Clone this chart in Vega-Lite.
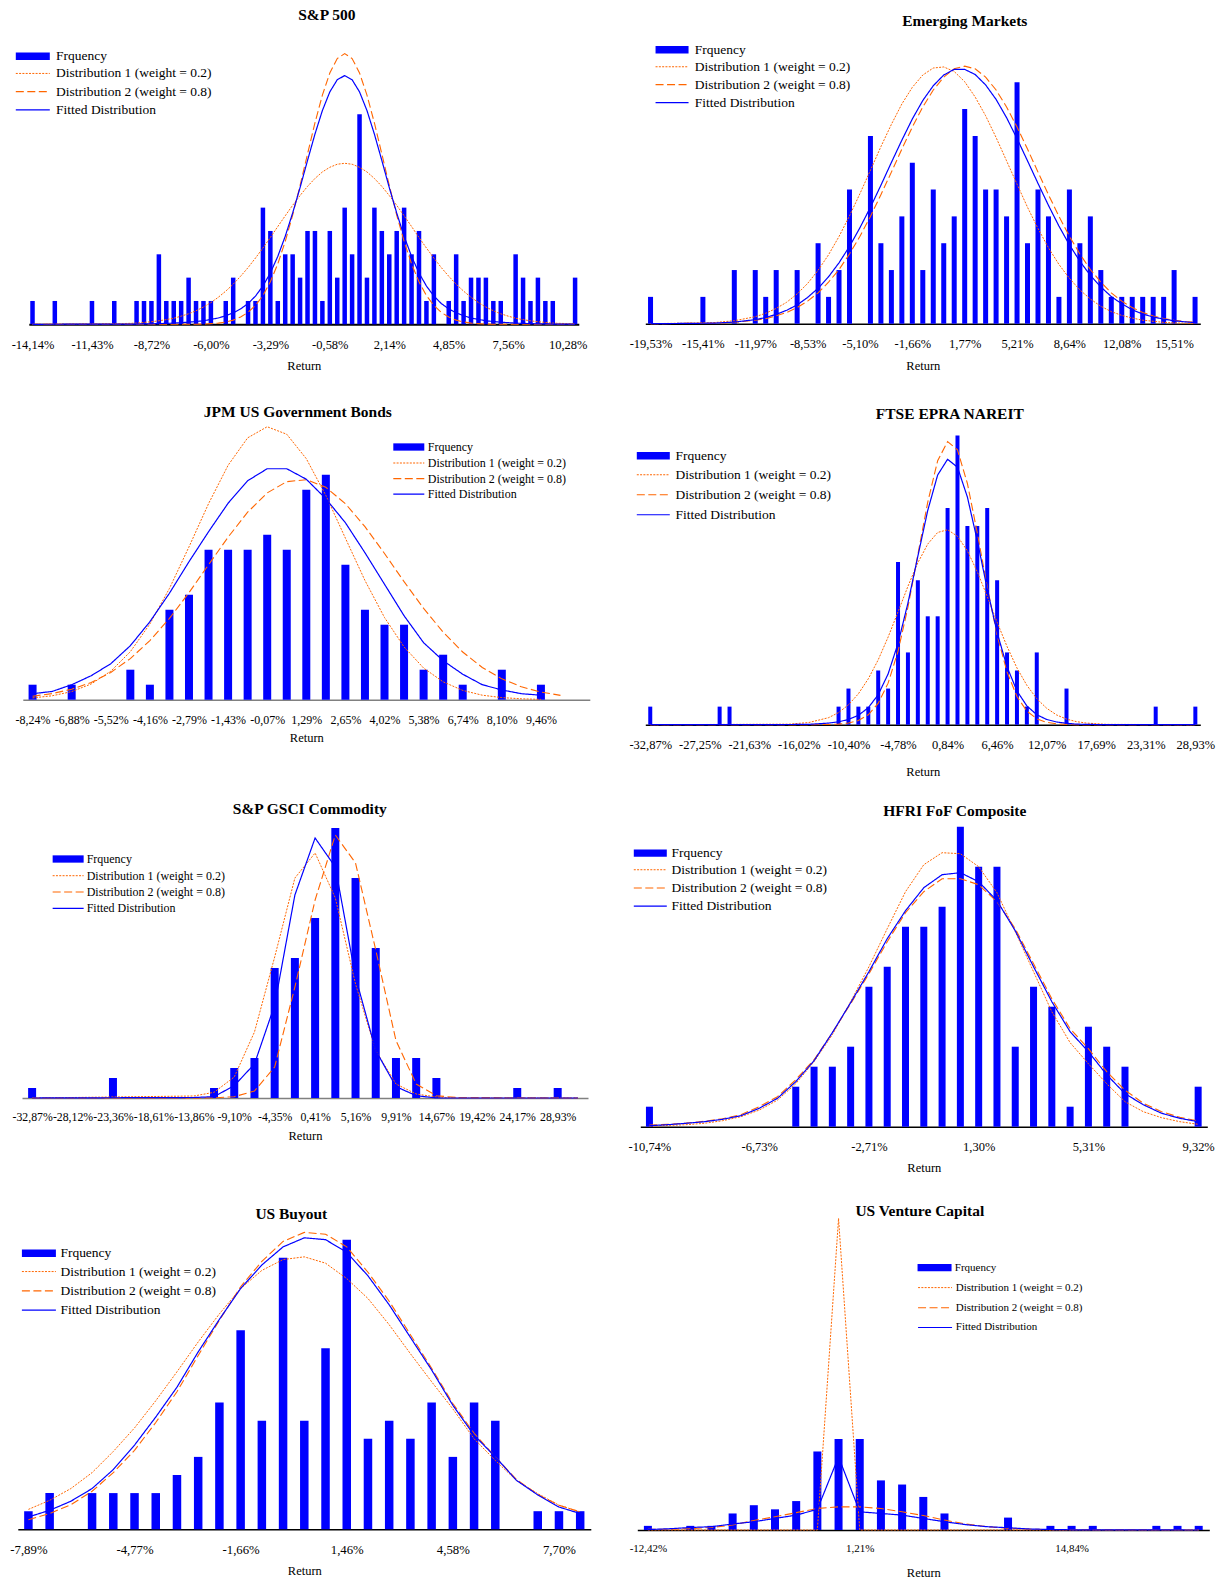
{
  "$schema": "https://vega.github.io/schema/vega-lite/v6.json",
  "padding": {"left": 9.3, "top": 7, "right": 2, "bottom": 2},
  "datasets": {
    "sp": [
      {"i":0,"f":1,"a":0,"b":0,"c":0},{"i":3,"f":1},{"i":8,"f":1},{"i":11,"f":1},
      {"i":12,"a":0.03,"c":0.01},{"i":14,"f":1,"a":0.05,"c":0.01},{"i":15,"f":1,"a":0.08,"c":0.02},
      {"i":16,"f":1,"a":0.11,"c":0.02},{"i":17,"f":3,"a":0.15,"c":0.03},{"i":18,"f":1,"a":0.2,"c":0.04},
      {"i":19,"f":1,"a":0.26,"c":0.05},{"i":20,"f":1,"a":0.35,"c":0.07},{"i":21,"f":2,"a":0.45,"c":0.09},
      {"i":22,"f":1,"a":0.58,"b":0,"c":0.12},{"i":23,"f":1,"a":0.74,"b":0.01,"c":0.15},
      {"i":24,"f":1,"a":0.93,"b":0.03,"c":0.21},{"i":25,"a":1.16,"b":0.05,"c":0.27},
      {"i":26,"f":1,"a":1.42,"b":0.1,"c":0.37},{"i":27,"f":2,"a":1.72,"b":0.18,"c":0.49},
      {"i":28,"a":2.06,"b":0.31,"c":0.66},{"i":29,"f":1,"a":2.43,"b":0.51,"c":0.89},
      {"i":30,"f":1,"a":2.84,"b":0.81,"c":1.21},{"i":31,"f":5,"a":3.27,"b":1.23,"c":1.64},
      {"i":32,"f":4,"a":3.72,"b":1.82,"c":2.2},{"i":33,"f":1,"a":4.19,"b":2.59,"c":2.91},
      {"i":34,"f":3,"a":4.65,"b":3.55,"c":3.77},{"i":35,"f":3,"a":5.1,"b":4.68,"c":4.77},
      {"i":36,"f":2,"a":5.52,"b":5.95,"c":5.86},{"i":37,"f":4,"a":5.91,"b":7.3,"c":7.02},
      {"i":38,"f":4,"a":6.25,"b":8.63,"c":8.15},{"i":39,"f":1,"a":6.53,"b":9.82,"c":9.16},
      {"i":40,"f":4,"a":6.73,"b":10.77,"c":9.96},{"i":41,"f":2,"a":6.86,"b":11.39,"c":10.48},
      {"i":42,"f":5,"a":6.9,"b":11.6,"c":10.66},{"i":43,"f":3,"a":6.86,"b":11.39,"c":10.48},
      {"i":44,"f":9,"a":6.73,"b":10.77,"c":9.96},{"i":45,"f":2,"a":6.53,"b":9.82,"c":9.16},
      {"i":46,"f":5,"a":6.25,"b":8.63,"c":8.15},{"i":47,"f":4,"a":5.91,"b":7.3,"c":7.02},
      {"i":48,"f":3,"a":5.52,"b":5.95,"c":5.86},{"i":49,"f":4,"a":5.1,"b":4.68,"c":4.77},
      {"i":50,"f":5,"a":4.65,"b":3.55,"c":3.77},{"i":51,"f":3,"a":4.19,"b":2.59,"c":2.91},
      {"i":52,"f":4,"a":3.72,"b":1.82,"c":2.2},{"i":53,"f":1,"a":3.27,"b":1.23,"c":1.64},
      {"i":54,"f":3,"a":2.84,"b":0.81,"c":1.21},{"i":55,"a":2.43,"b":0.51,"c":0.89},
      {"i":56,"f":1,"a":2.06,"b":0.31,"c":0.66},{"i":57,"f":3,"a":1.72,"b":0.18,"c":0.49},
      {"i":58,"f":1,"a":1.42,"b":0.1,"c":0.37},{"i":59,"f":2,"a":1.16,"b":0.05,"c":0.27},
      {"i":60,"f":2,"a":0.93,"b":0.03,"c":0.21},{"i":61,"f":2,"a":0.74,"b":0.01,"c":0.15},
      {"i":62,"f":1,"a":0.58,"b":0,"c":0.12},{"i":63,"f":1,"a":0.45,"c":0.09},{"i":64,"a":0.35,"c":0.07},
      {"i":65,"f":3,"a":0.26,"c":0.05},{"i":66,"f":2,"a":0.2,"c":0.04},{"i":67,"f":1,"a":0.15,"c":0.03},
      {"i":68,"f":2,"a":0.11,"c":0.02},{"i":69,"f":1,"a":0.08,"c":0.02},{"i":70,"f":1,"a":0.05,"c":0.01},
      {"i":72,"a":0.03,"c":0.01},{"i":73,"f":2,"a":0.02,"b":0,"c":0}
    ],
    "em": [
      {"i":0,"f":1,"a":0,"b":0,"c":0},{"i":5,"f":1},{"i":6,"a":0.04,"b":0.02,"c":0.02},
      {"i":8,"f":2,"a":0.11,"b":0.05,"c":0.06},{"i":10,"f":2,"a":0.26,"b":0.13,"c":0.15},
      {"i":11,"f":1,"a":0.39,"b":0.19,"c":0.23},{"i":12,"f":2,"a":0.57,"b":0.29,"c":0.35},
      {"i":13,"a":0.8,"b":0.42,"c":0.5},{"i":14,"f":2,"a":1.11,"b":0.6,"c":0.7},
      {"i":15,"a":1.5,"b":0.84,"c":0.98},{"i":16,"f":3,"a":1.99,"b":1.15,"c":1.32},
      {"i":17,"f":1,"a":2.57,"b":1.55,"c":1.75},{"i":18,"f":2,"a":3.25,"b":2.02,"c":2.27},
      {"i":19,"f":5,"a":4.02,"b":2.6,"c":2.88},{"i":20,"a":4.85,"b":3.26,"c":3.58},
      {"i":21,"f":7,"a":5.72,"b":4.0,"c":4.34},{"i":22,"f":3,"a":6.6,"b":4.81,"c":5.16},
      {"i":23,"f":2,"a":7.43,"b":5.65,"c":6.01},{"i":24,"f":4,"a":8.19,"b":6.51,"c":6.84},
      {"i":25,"f":6,"a":8.81,"b":7.33,"c":7.63},{"i":26,"f":2,"a":9.27,"b":8.08,"c":8.32},
      {"i":27,"f":5,"a":9.53,"b":8.71,"c":8.87},{"i":28,"f":3,"a":9.57,"b":9.19,"c":9.27},
      {"i":29,"f":4,"a":9.4,"b":9.5,"c":9.48},{"i":30,"f":8,"a":9.02,"b":9.6,"c":9.48},
      {"i":31,"f":7,"a":8.45,"b":9.5,"c":9.29},{"i":32,"f":5,"a":7.75,"b":9.19,"c":8.9},
      {"i":33,"f":5,"a":6.94,"b":8.71,"c":8.36},{"i":34,"f":4,"a":6.07,"b":8.08,"c":7.68},
      {"i":35,"f":9,"a":5.2,"b":7.33,"c":6.9},{"i":36,"f":3,"a":4.34,"b":6.51,"c":6.07},
      {"i":37,"f":5,"a":3.55,"b":5.65,"c":5.23},{"i":38,"f":4,"a":2.83,"b":4.81,"c":4.41},
      {"i":39,"f":1,"a":2.21,"b":4.0,"c":3.64},{"i":40,"f":5,"a":1.69,"b":3.26,"c":2.94},
      {"i":41,"f":3,"a":1.26,"b":2.6,"c":2.33},{"i":42,"f":4,"a":0.92,"b":2.02,"c":1.8},
      {"i":43,"f":2,"a":0.65,"b":1.55,"c":1.37},{"i":44,"f":1,"a":0.45,"b":1.15,"c":1.01},
      {"i":45,"f":1,"a":0.31,"b":0.84,"c":0.74},{"i":46,"f":1,"a":0.21,"b":0.6,"c":0.52},
      {"i":47,"f":1,"a":0.13,"b":0.42,"c":0.36},{"i":48,"f":1,"a":0.09,"b":0.29,"c":0.25},
      {"i":49,"f":1,"a":0.05,"b":0.19,"c":0.17},{"i":50,"f":2,"a":0.03,"b":0.13,"c":0.11},
      {"i":51,"a":0.02,"b":0.08,"c":0.07},{"i":52,"f":1,"a":0.01,"b":0.05,"c":0.04}
    ],
    "jpm": [
      {"i":0,"f":1,"a":0.12,"b":0.23,"c":0.4},{"i":1,"a":0.26,"b":0.41,"c":0.55},
      {"i":2,"f":1,"a":0.54,"b":0.7,"c":1.0},{"i":3,"a":1.05,"b":1.15,"c":1.6},
      {"i":4,"a":1.9,"b":1.82,"c":2.4},{"i":5,"f":2,"a":3.2,"b":2.74,"c":3.6},
      {"i":6,"f":1,"a":5.05,"b":3.94,"c":5.2},{"i":7,"f":6,"a":7.42,"b":5.42,"c":7.1},
      {"i":8,"f":7,"a":10.19,"b":7.14,"c":9.2},{"i":9,"f":10,"a":13.07,"b":9.0,"c":11.2},
      {"i":10,"f":10,"a":15.63,"b":10.84,"c":13.1},{"i":11,"f":10,"a":17.46,"b":12.5,"c":14.6},
      {"i":12,"f":11,"a":18.2,"b":13.79,"c":15.4},{"i":13,"f":10,"a":17.7,"b":14.54,"c":15.4},
      {"i":14,"f":14,"a":16.07,"b":14.67,"c":14.7},{"i":15,"f":15,"a":13.62,"b":14.16,"c":13.4},
      {"i":16,"f":9,"a":10.77,"b":13.07,"c":11.8},{"i":17,"f":6,"a":7.95,"b":11.54,"c":9.8},
      {"i":18,"f":5,"a":5.48,"b":9.75,"c":7.7},{"i":19,"f":5,"a":3.52,"b":7.87,"c":5.6},
      {"i":20,"f":2,"a":2.11,"b":6.09,"c":3.8},{"i":21,"f":3,"a":1.19,"b":4.5,"c":2.6},
      {"i":22,"f":1,"a":0.62,"b":3.18,"c":1.7},{"i":23,"a":0.3,"b":2.15,"c":1.0},
      {"i":24,"f":2,"a":0.14,"b":1.39,"c":0.65},{"i":25,"a":0.06,"b":0.86,"c":0.4},
      {"i":26,"f":1,"a":0.02,"b":0.51,"c":0.3},{"i":27,"b":0.29}
    ],
    "ftse": [
      {"i":0,"f":1,"a":0,"b":0,"c":0},{"i":7,"f":1},{"i":8,"f":1},
      {"i":14,"a":0.03,"b":0,"c":0.01},{"i":16,"a":0.12,"c":0.02},{"i":18,"a":0.39,"b":0.01,"c":0.09},
      {"i":19,"f":1,"a":0.67,"b":0.03,"c":0.16},{"i":20,"f":2,"a":1.1,"b":0.09,"c":0.29},
      {"i":21,"f":1,"a":1.71,"b":0.23,"c":0.52},{"i":22,"f":1,"a":2.54,"b":0.55,"c":0.94},
      {"i":23,"f":3,"a":3.59,"b":1.18,"c":1.66},{"i":24,"f":2,"a":4.85,"b":2.3,"c":2.81},
      {"i":25,"f":9,"a":6.24,"b":4.06,"c":4.5},{"i":26,"f":4,"a":7.66,"b":6.5,"c":6.73},
      {"i":27,"f":8,"a":8.96,"b":9.41,"c":9.32},{"i":28,"f":6,"a":10.0,"b":12.32,"c":11.86},
      {"i":29,"f":6,"a":10.64,"b":14.61,"c":13.82},{"i":30,"f":12,"a":10.79,"b":15.67,"c":14.69},
      {"i":31,"f":16,"a":10.43,"b":15.21,"c":14.25},{"i":32,"f":11,"a":9.62,"b":13.35,"c":12.6},
      {"i":33,"f":11,"a":8.46,"b":10.61,"c":10.18},{"i":34,"f":12,"a":7.1,"b":7.63,"c":7.52},
      {"i":35,"f":8,"a":5.67,"b":4.96,"c":5.1},{"i":36,"f":4,"a":4.33,"b":2.92,"c":3.2},
      {"i":37,"f":3,"a":3.14,"b":1.56,"c":1.87},{"i":38,"f":1,"a":2.18,"b":0.75,"c":1.04},
      {"i":39,"f":4,"a":1.44,"b":0.33,"c":0.55},{"i":40,"a":0.91,"b":0.13,"c":0.29},
      {"i":41,"a":0.54,"b":0.05,"c":0.15},{"i":42,"f":2,"a":0.31,"b":0.02,"c":0.08},
      {"i":43,"a":0.17,"b":0,"c":0.03},{"i":44,"a":0.09,"c":0.02},{"i":46,"a":0.02,"c":0},
      {"i":51,"f":1},{"i":55,"f":1,"a":0,"b":0,"c":0}
    ],
    "gsci": [
      {"i":0,"f":1,"a":0,"b":0,"c":0},{"i":4,"f":2},{"i":8,"a":0.2,"b":0,"c":0.05},
      {"i":9,"f":1,"a":0.57,"b":0.02,"c":0.13},{"i":10,"f":3,"a":2.1,"b":0.13,"c":1.24},
      {"i":11,"f":4,"a":6.6,"b":0.7,"c":3.4},{"i":12,"f":13,"a":14.1,"b":3.1,"c":9.3},
      {"i":13,"f":14,"a":22.0,"b":11.1,"c":20.3},{"i":14,"f":18,"a":24.5,"b":19.8,"c":26.0},
      {"i":15,"f":27,"a":20.0,"b":26.3,"c":23.1},{"i":16,"f":22,"a":11.4,"b":23.5,"c":12.1},
      {"i":17,"f":15,"a":4.75,"b":14.8,"c":4.75},{"i":18,"f":4,"a":1.4,"b":5.75,"c":1.14},
      {"i":19,"f":4,"a":0.4,"b":1.4,"c":0.23},{"i":20,"f":2,"a":0.1,"b":0.23,"c":0},
      {"i":21,"a":0,"b":0.05,"c":0},{"i":24,"f":1},{"i":26,"f":1},{"i":27,"a":0,"b":0,"c":0}
    ],
    "hfri": [
      {"i":0,"f":1,"a":0.03,"b":0.08,"c":0.05},{"i":1,"a":0.06,"b":0.12,"c":0.1},
      {"i":2,"a":0.1,"b":0.18,"c":0.17},{"i":3,"a":0.17,"b":0.27,"c":0.25},
      {"i":4,"a":0.3,"b":0.4,"c":0.37},{"i":5,"a":0.5,"b":0.6,"c":0.55},
      {"i":6,"a":0.83,"b":1.0,"c":0.92},{"i":7,"a":1.33,"b":1.5,"c":1.42},
      {"i":8,"f":2,"a":2.15,"b":2.35,"c":2.25},{"i":9,"f":3,"a":3.25,"b":3.35,"c":3.3},
      {"i":10,"f":3,"a":4.6,"b":4.7,"c":4.7},{"i":11,"f":4,"a":6.25,"b":6.15,"c":6.2},
      {"i":12,"f":7,"a":8.0,"b":7.65,"c":7.75},{"i":13,"f":8,"a":9.9,"b":9.25,"c":9.4},
      {"i":14,"f":10,"a":11.75,"b":10.7,"c":10.8},{"i":15,"f":10,"a":13.1,"b":11.75,"c":11.95},
      {"i":16,"f":11,"a":13.7,"b":12.4,"c":12.6},{"i":17,"f":15,"a":13.65,"b":12.4,"c":12.7},
      {"i":18,"f":13,"a":13.0,"b":12.1,"c":12.25},{"i":19,"f":13,"a":11.7,"b":11.25,"c":11.3},
      {"i":20,"f":4,"a":9.75,"b":9.9,"c":9.8},{"i":21,"f":7,"a":7.75,"b":8.15,"c":8.0},
      {"i":22,"f":6,"a":5.75,"b":6.4,"c":6.25},{"i":23,"f":1,"a":4.2,"b":4.9,"c":4.75},
      {"i":24,"f":5,"a":3.15,"b":3.9,"c":3.75},{"i":25,"f":4,"a":2.15,"b":2.75,"c":2.6},
      {"i":26,"f":3,"a":1.25,"b":1.83,"c":1.65},{"i":27,"a":0.75,"b":1.17,"c":1.1},
      {"i":28,"a":0.45,"b":0.75,"c":0.67},{"i":29,"a":0.25,"b":0.47,"c":0.42},
      {"i":30,"f":2,"a":0.12,"b":0.28,"c":0.25}
    ],
    "buy": [
      {"i":0,"f":1,"a":1.1,"b":0.53,"c":0.68},{"i":1,"f":2,"a":1.6,"b":0.87,"c":1.05},
      {"i":2,"a":2.25,"b":1.36,"c":1.55},{"i":3,"f":2,"a":3.13,"b":2.1,"c":2.25},
      {"i":4,"f":2,"a":4.3,"b":3.13,"c":3.3},{"i":5,"f":2,"a":5.6,"b":4.36,"c":4.65},
      {"i":6,"f":2,"a":7.1,"b":5.9,"c":6.2},{"i":7,"f":3,"a":8.7,"b":7.6,"c":7.85},
      {"i":8,"f":4,"a":10.35,"b":9.6,"c":9.8},{"i":9,"f":7,"a":11.9,"b":11.55,"c":11.6},
      {"i":10,"f":11,"a":13.3,"b":13.4,"c":13.3},{"i":11,"f":6,"a":14.3,"b":14.8,"c":14.6},
      {"i":12,"f":15,"a":14.9,"b":15.9,"c":15.6},{"i":13,"f":6,"a":15.05,"b":16.4,"c":16.1},
      {"i":14,"f":10,"a":14.7,"b":16.3,"c":16.0},{"i":15,"f":16,"a":13.85,"b":15.6,"c":15.3},
      {"i":16,"f":5,"a":12.75,"b":14.2,"c":14.0},{"i":17,"f":6,"a":11.3,"b":12.6,"c":12.4},
      {"i":18,"f":5,"a":9.7,"b":10.75,"c":10.6},{"i":19,"f":7,"a":8.15,"b":8.9,"c":8.8},
      {"i":20,"f":4,"a":6.65,"b":6.95,"c":6.85},{"i":21,"f":7,"a":5.0,"b":5.3,"c":5.2},
      {"i":22,"f":6,"a":3.8,"b":4.0,"c":4.0},{"i":23,"a":2.7,"b":2.75,"c":2.7},
      {"i":24,"f":1,"a":1.97,"b":1.92,"c":1.9},{"i":25,"f":1,"a":1.33,"b":1.33,"c":1.23},
      {"i":26,"f":1,"a":0.96,"b":0.96,"c":0.87}
    ],
    "vc": [
      {"i":0,"f":1,"a":0,"b":0.15,"c":0.1},{"i":1,"a":0,"b":0.2,"c":0.3},
      {"i":2,"f":1,"a":0,"b":0.35,"c":0.6},{"i":3,"f":1,"a":0,"b":0.6,"c":0.8},
      {"i":4,"f":4,"a":0,"b":1.2,"c":1.45},{"i":5,"f":6,"a":0,"b":2.3,"c":2.0},
      {"i":6,"f":5,"a":0,"b":3.2,"c":2.8},{"i":7,"f":7,"a":0,"b":4.2,"c":3.6},
      {"i":8,"f":19,"a":0,"b":5.2,"c":5.0},{"i":9,"f":22,"a":75.4,"b":5.6,"c":17.7},
      {"i":10,"f":22,"a":0,"b":5.6,"c":4.4},{"i":11,"f":12,"a":0,"b":5.2,"c":4.0},
      {"i":12,"f":11,"a":0,"b":4.4,"c":3.6},{"i":13,"f":8,"a":0,"b":3.5,"c":2.8},
      {"i":14,"f":4,"a":0,"b":2.4,"c":2.0},{"i":15,"a":0,"b":1.45,"c":1.3},
      {"i":16,"a":0,"b":0.8,"c":0.8},{"i":17,"f":3,"a":0,"b":0.4,"c":0.55},
      {"i":18,"a":0,"b":0.2,"c":0.25},{"i":19,"f":1,"a":0,"b":0.1,"c":0.12},
      {"i":20,"f":1,"a":0,"b":0.05,"c":0.05},{"i":21,"f":1},{"i":24,"f":1},{"i":25,"f":1},
      {"i":26,"f":1,"a":0,"b":0,"c":0}
    ]
  },
  "columns": 2,
  "bounds": "flush",
  "spacing": {"row": 92, "column": 44},
  "resolve": {
    "scale": {"x": "independent", "y": "independent", "fill": "independent", "stroke": "independent", "strokeDash": "independent", "strokeWidth": "independent"},
    "legend": {"fill": "independent", "stroke": "independent", "strokeDash": "independent", "strokeWidth": "independent"}
  },
  "concat": [
    {
      "width": 575, "height": 293.3,
      "title": {"text": "S&P 500", "offset": 8, "dx": 22},
      "data": {"name": "sp"},
      "layer": [
        {"transform": [{"filter": "datum.f > 0"}],
         "mark": {"type": "bar", "size": 4.5},
         "encoding": {
           "x": {"field": "i", "type": "quantitative", "scale": {"domain": [-0.5, 73.5], "range": [11.5, 561.5], "nice": false, "zero": false, "padding": 0},
                 "axis": {"title": "Return", "values": [0,8,16,24,32,40,48,56,64,72], "labelExpr": "['-14,14%','-11,43%','-8,72%','-6,00%','-3,29%','-0,58%','2,14%','4,85%','7,56%','10,28%'][datum.value/8]", "labelPadding": 20.5, "titleY": 41.5, "labelFontSize": 12.5, "domainWidth": 2}},
           "y": {"field": "f", "type": "quantitative", "scale": {"domain": [0, 12.57], "nice": false}, "axis": null},
           "fill": {"datum": "Frquency", "type": "nominal", "scale": {"range": ["#0000FF"]}, "legend": {"title": null, "legendX": 8.75, "legendY": 18.5, "labelFontSize": 13.5, "labelOffset": 16.5, "symbolType": "M-3.4,-0.73H3.4V0.73H-3.4Z", "symbolStrokeWidth": 0}}
         }},
        {"transform": [{"fold": ["a","b","c"], "as": ["s","v"]}, {"filter": "isValid(datum.v)"}],
         "mark": {"type": "line"},
         "encoding": {
           "x": {"field": "i", "type": "quantitative"},
           "y": {"field": "v", "type": "quantitative"},
           "stroke": {"field": "s", "type": "nominal", "scale": {"domain": ["a","b","c"], "range": ["#FF6600","#FF6600","#0000FF"]}, "legend": {"title": null, "legendX": 8.75, "legendY": 35.7, "rowPadding": 3.2, "labelFontSize": 13.5, "labelOffset": 16.5, "symbolType": "M-3.4,0H3.4", "labelExpr": "datum.value == 'a' ? 'Distribution 1 (weight = 0.2)' : datum.value == 'b' ? 'Distribution 2 (weight = 0.8)' : 'Fitted Distribution'"}},
           "strokeDash": {"field": "s", "type": "nominal", "scale": {"domain": ["a","b","c"], "range": [[2,1.3],[8,3.5],[1,0]]}, "legend": {"title": null, "legendX": 8.75, "legendY": 35.7, "rowPadding": 3.2, "labelFontSize": 13.5, "labelOffset": 16.5, "symbolType": "M-3.4,0H3.4", "labelExpr": "datum.value == 'a' ? 'Distribution 1 (weight = 0.2)' : datum.value == 'b' ? 'Distribution 2 (weight = 0.8)' : 'Fitted Distribution'"}},
           "strokeWidth": {"field": "s", "type": "ordinal", "scale": {"domain": ["a","b","c"], "range": [1,1.2,2.4]}, "legend": {"title": null, "legendX": 8.75, "legendY": 35.7, "rowPadding": 3.2, "labelFontSize": 13.5, "labelOffset": 16.5, "symbolType": "M-3.4,0H3.4", "labelExpr": "datum.value == 'a' ? 'Distribution 1 (weight = 0.2)' : datum.value == 'b' ? 'Distribution 2 (weight = 0.8)' : 'Fitted Distribution'"}}
         }}
      ]
    },
    {
      "width": 577, "height": 292.7,
      "title": {"text": "Emerging Markets", "offset": 1.3, "dx": 40},
      "data": {"name": "em"},
      "layer": [
        {"transform": [{"filter": "datum.f > 0"}],
         "mark": {"type": "bar", "size": 5},
         "encoding": {
           "x": {"field": "i", "type": "quantitative", "scale": {"domain": [-0.5, 52.5], "range": [9, 564], "nice": false, "zero": false, "padding": 0},
                 "axis": {"title": "Return", "values": [0,5,10,15,20,25,30,35,40,45,50], "labelExpr": "['-19,53%','-15,41%','-11,97%','-8,53%','-5,10%','-1,66%','1,77%','5,21%','8,64%','12,08%','15,51%'][datum.value/5]", "labelPadding": 19.5, "titleY": 41.5, "labelFontSize": 12.5}},
           "y": {"field": "f", "type": "quantitative", "scale": {"domain": [0, 10.91], "nice": false}, "axis": null},
           "fill": {"datum": "Frquency", "type": "nominal", "scale": {"range": ["#0000FF"]}, "legend": {"title": null, "legendX": 29, "legendY": 12, "labelFontSize": 13.5, "labelOffset": 16, "symbolType": "M-3.3,-0.73H3.3V0.73H-3.3Z", "symbolStrokeWidth": 0}}
         }},
        {"transform": [{"fold": ["a","b","c"], "as": ["s","v"]}, {"filter": "isValid(datum.v)"}],
         "mark": {"type": "line"},
         "encoding": {
           "x": {"field": "i", "type": "quantitative"},
           "y": {"field": "v", "type": "quantitative"},
           "stroke": {"field": "s", "type": "nominal", "scale": {"domain": ["a","b","c"], "range": ["#FF6600","#FF6600","#0000FF"]}, "legend": {"title": null, "legendX": 29, "legendY": 29, "rowPadding": 2.9, "labelFontSize": 13.5, "labelOffset": 16, "labelExpr": "datum.value == 'a' ? 'Distribution 1 (weight = 0.2)' : datum.value == 'b' ? 'Distribution 2 (weight = 0.8)' : 'Fitted Distribution'"}},
           "strokeDash": {"field": "s", "type": "nominal", "scale": {"domain": ["a","b","c"], "range": [[2,1.3],[8,3.5],[1,0]]}, "legend": {"title": null, "legendX": 29, "legendY": 29, "rowPadding": 2.9, "labelFontSize": 13.5, "labelOffset": 16, "labelExpr": "datum.value == 'a' ? 'Distribution 1 (weight = 0.2)' : datum.value == 'b' ? 'Distribution 2 (weight = 0.8)' : 'Fitted Distribution'"}},
           "strokeWidth": {"field": "s", "type": "ordinal", "scale": {"domain": ["a","b","c"], "range": [1,1.2,2.4]}, "legend": {"title": null, "legendX": 29, "legendY": 29, "rowPadding": 2.9, "labelFontSize": 13.5, "labelOffset": 16, "labelExpr": "datum.value == 'a' ? 'Distribution 1 (weight = 0.2)' : datum.value == 'b' ? 'Distribution 2 (weight = 0.8)' : 'Fitted Distribution'"}}
         }}
      ]
    },
    {
      "width": 575, "height": 282.7,
      "title": {"text": "JPM US Government Bonds", "offset": -3.4, "dx": -7},
      "data": {"name": "jpm"},
      "layer": [
        {"transform": [{"filter": "datum.f > 0"}],
         "mark": {"type": "bar", "size": 8},
         "encoding": {
           "x": {"field": "i", "type": "quantitative", "scale": {"domain": [-0.5, 28.5], "range": [5.5, 572.5], "nice": false, "zero": false, "padding": 0},
                 "axis": {"title": "Return", "values": [0,2,4,6,8,10,12,14,16,18,20,22,24,26], "labelExpr": "['-8,24%','-6,88%','-5,52%','-4,16%','-2,79%','-1,43%','-0,07%','1,29%','2,65%','4,02%','5,38%','6,74%','8,10%','9,46%'][datum.value/2]", "labelPadding": 20, "titleY": 38, "labelFontSize": 12, "domainColor": "#808080"}},
           "y": {"field": "f", "type": "quantitative", "scale": {"domain": [0, 18.85], "nice": false}, "axis": null},
           "fill": {"datum": "Frquency", "type": "nominal", "scale": {"range": ["#0000FF"]}, "legend": {"title": null, "legendX": 385.5, "legendY": 24, "labelFontSize": 12, "labelOffset": 13, "symbolType": "M-3.1,-0.73H3.1V0.73H-3.1Z", "symbolStrokeWidth": 0}}
         }},
        {"transform": [{"fold": ["a","b","c"], "as": ["s","v"]}, {"filter": "isValid(datum.v)"}],
         "mark": {"type": "line"},
         "encoding": {
           "x": {"field": "i", "type": "quantitative"},
           "y": {"field": "v", "type": "quantitative"},
           "stroke": {"field": "s", "type": "nominal", "scale": {"domain": ["a","b","c"], "range": ["#FF6600","#FF6600","#0000FF"]}, "legend": {"title": null, "legendX": 385.5, "legendY": 40, "rowPadding": 3.6, "labelFontSize": 12, "labelOffset": 13, "symbolType": "M-3.1,0H3.1", "labelExpr": "datum.value == 'a' ? 'Distribution 1 (weight = 0.2)' : datum.value == 'b' ? 'Distribution 2 (weight = 0.8)' : 'Fitted Distribution'"}},
           "strokeDash": {"field": "s", "type": "nominal", "scale": {"domain": ["a","b","c"], "range": [[2,1.3],[8,3.5],[1,0]]}, "legend": {"title": null, "legendX": 385.5, "legendY": 40, "rowPadding": 3.6, "labelFontSize": 12, "labelOffset": 13, "symbolType": "M-3.1,0H3.1", "labelExpr": "datum.value == 'a' ? 'Distribution 1 (weight = 0.2)' : datum.value == 'b' ? 'Distribution 2 (weight = 0.8)' : 'Fitted Distribution'"}},
           "strokeWidth": {"field": "s", "type": "ordinal", "scale": {"domain": ["a","b","c"], "range": [1,1.2,2.2]}, "legend": {"title": null, "legendX": 385.5, "legendY": 40, "rowPadding": 3.6, "labelFontSize": 12, "labelOffset": 13, "symbolType": "M-3.1,0H3.1", "labelExpr": "datum.value == 'a' ? 'Distribution 1 (weight = 0.2)' : datum.value == 'b' ? 'Distribution 2 (weight = 0.8)' : 'Fitted Distribution'"}}
         }}
      ]
    },
    {
      "width": 577, "height": 307.7,
      "title": {"text": "FTSE EPRA NAREIT", "offset": -5.7, "dx": 25},
      "data": {"name": "ftse"},
      "layer": [
        {"transform": [{"filter": "datum.f > 0"}],
         "mark": {"type": "bar", "size": 4},
         "encoding": {
           "x": {"field": "i", "type": "quantitative", "scale": {"domain": [-0.5, 55.5], "range": [9, 564], "nice": false, "zero": false, "padding": 0},
                 "axis": {"title": "Return", "values": [0,5,10,15,20,25,30,35,40,45,50,55], "labelExpr": "['-32,87%','-27,25%','-21,63%','-16,02%','-10,40%','-4,78%','0,84%','6,46%','12,07%','17,69%','23,31%','28,93%'][datum.value/5]", "labelPadding": 20, "titleY": 47, "labelFontSize": 12.5}},
           "y": {"field": "f", "type": "quantitative", "scale": {"domain": [0, 17.03], "nice": false}, "axis": null},
           "fill": {"datum": "Frquency", "type": "nominal", "scale": {"range": ["#0000FF"]}, "legend": {"title": null, "legendX": 10.25, "legendY": 32, "labelFontSize": 13.5, "labelOffset": 15.4, "symbolType": "M-3.3,-0.73H3.3V0.73H-3.3Z", "symbolStrokeWidth": 0}}
         }},
        {"transform": [{"fold": ["a","b","c"], "as": ["s","v"]}, {"filter": "isValid(datum.v)"}],
         "mark": {"type": "line"},
         "encoding": {
           "x": {"field": "i", "type": "quantitative"},
           "y": {"field": "v", "type": "quantitative"},
           "stroke": {"field": "s", "type": "nominal", "scale": {"domain": ["a","b","c"], "range": ["#FF6600","#FF6600","#0000FF"]}, "legend": {"title": null, "legendX": 10.25, "legendY": 51, "rowPadding": 5, "labelFontSize": 13.5, "labelOffset": 15.4, "labelExpr": "datum.value == 'a' ? 'Distribution 1 (weight = 0.2)' : datum.value == 'b' ? 'Distribution 2 (weight = 0.8)' : 'Fitted Distribution'"}},
           "strokeDash": {"field": "s", "type": "nominal", "scale": {"domain": ["a","b","c"], "range": [[2,1.3],[8,3.5],[1,0]]}, "legend": {"title": null, "legendX": 10.25, "legendY": 51, "rowPadding": 5, "labelFontSize": 13.5, "labelOffset": 15.4, "labelExpr": "datum.value == 'a' ? 'Distribution 1 (weight = 0.2)' : datum.value == 'b' ? 'Distribution 2 (weight = 0.8)' : 'Fitted Distribution'"}},
           "strokeWidth": {"field": "s", "type": "ordinal", "scale": {"domain": ["a","b","c"], "range": [1,1.2,2.2]}, "legend": {"title": null, "legendX": 10.25, "legendY": 51, "rowPadding": 5, "labelFontSize": 13.5, "labelOffset": 15.4, "labelExpr": "datum.value == 'a' ? 'Distribution 1 (weight = 0.2)' : datum.value == 'b' ? 'Distribution 2 (weight = 0.8)' : 'Fitted Distribution'"}}
         }}
      ]
    },
    {
      "width": 575, "height": 281,
      "title": {"text": "S&P GSCI Commodity", "offset": -1, "dx": 5},
      "data": {"name": "gsci"},
      "layer": [
        {"transform": [{"filter": "datum.f > 0"}],
         "mark": {"type": "bar", "size": 8},
         "encoding": {
           "x": {"field": "i", "type": "quantitative", "scale": {"domain": [-0.5, 27.5], "range": [4.7, 570.7], "nice": false, "zero": false, "padding": 0},
                 "axis": {"title": "Return", "values": [0,2,4,6,8,10,12,14,16,18,20,22,24,26], "labelExpr": "['-32,87%','-28,12%','-23,36%','-18,61%','-13,86%','-9,10%','-4,35%','0,41%','5,16%','9,91%','14,67%','19,42%','24,17%','28,93%'][datum.value/2]", "labelPadding": 18.8, "titleY": 37.7, "labelFontSize": 11.8, "domainColor": "#808080"}},
           "y": {"field": "f", "type": "quantitative", "scale": {"domain": [0, 28.1], "nice": false}, "axis": null},
           "fill": {"datum": "Frquency", "type": "nominal", "scale": {"range": ["#0000FF"]}, "legend": {"title": null, "legendX": 44.85, "legendY": 36, "labelFontSize": 12, "labelOffset": 12.5, "symbolType": "M-3.1,-0.73H3.1V0.73H-3.1Z", "symbolStrokeWidth": 0}}
         }},
        {"transform": [{"fold": ["a","b","c"], "as": ["s","v"]}, {"filter": "isValid(datum.v)"}],
         "mark": {"type": "line"},
         "encoding": {
           "x": {"field": "i", "type": "quantitative"},
           "y": {"field": "v", "type": "quantitative"},
           "stroke": {"field": "s", "type": "nominal", "scale": {"domain": ["a","b","c"], "range": ["#FF6600","#FF6600","#0000FF"]}, "legend": {"title": null, "legendX": 44.85, "legendY": 52.7, "rowPadding": 4.3, "labelFontSize": 12, "labelOffset": 12.5, "symbolType": "M-3.1,0H3.1", "labelExpr": "datum.value == 'a' ? 'Distribution 1 (weight = 0.2)' : datum.value == 'b' ? 'Distribution 2 (weight = 0.8)' : 'Fitted Distribution'"}},
           "strokeDash": {"field": "s", "type": "nominal", "scale": {"domain": ["a","b","c"], "range": [[2,1.3],[8,3.5],[1,0]]}, "legend": {"title": null, "legendX": 44.85, "legendY": 52.7, "rowPadding": 4.3, "labelFontSize": 12, "labelOffset": 12.5, "symbolType": "M-3.1,0H3.1", "labelExpr": "datum.value == 'a' ? 'Distribution 1 (weight = 0.2)' : datum.value == 'b' ? 'Distribution 2 (weight = 0.8)' : 'Fitted Distribution'"}},
           "strokeWidth": {"field": "s", "type": "ordinal", "scale": {"domain": ["a","b","c"], "range": [1,1.2,2.2]}, "legend": {"title": null, "legendX": 44.85, "legendY": 52.7, "rowPadding": 4.3, "labelFontSize": 12, "labelOffset": 12.5, "symbolType": "M-3.1,0H3.1", "labelExpr": "datum.value == 'a' ? 'Distribution 1 (weight = 0.2)' : datum.value == 'b' ? 'Distribution 2 (weight = 0.8)' : 'Fitted Distribution'"}}
         }}
      ]
    },
    {
      "width": 577, "height": 309.7,
      "title": {"text": "HFRI FoF Composite", "offset": -3, "dx": 30},
      "data": {"name": "hfri"},
      "layer": [
        {"transform": [{"filter": "datum.f > 0"}],
         "mark": {"type": "bar", "size": 7},
         "encoding": {
           "x": {"field": "i", "type": "quantitative", "scale": {"domain": [-0.5, 30.5], "range": [4, 571], "nice": false, "zero": false, "padding": 0},
                 "axis": {"title": "Return", "values": [0,6,12,18,24,30], "labelExpr": "['-10,74%','-6,73%','-2,71%','1,30%','5,31%','9,32%'][datum.value/6]", "labelPadding": 19.5, "titleY": 40.5, "labelFontSize": 12.5}},
           "y": {"field": "f", "type": "quantitative", "scale": {"domain": [0, 15.485], "nice": false}, "axis": null},
           "fill": {"datum": "Frquency", "type": "nominal", "scale": {"range": ["#0000FF"]}, "legend": {"title": null, "legendX": 7.25, "legendY": 29.3, "labelFontSize": 13.5, "labelOffset": 14.5, "symbolType": "M-3.3,-0.73H3.3V0.73H-3.3Z", "symbolStrokeWidth": 0}}
         }},
        {"transform": [{"fold": ["a","b","c"], "as": ["s","v"]}, {"filter": "isValid(datum.v)"}],
         "mark": {"type": "line"},
         "encoding": {
           "x": {"field": "i", "type": "quantitative"},
           "y": {"field": "v", "type": "quantitative"},
           "stroke": {"field": "s", "type": "nominal", "scale": {"domain": ["a","b","c"], "range": ["#FF6600","#FF6600","#0000FF"]}, "legend": {"title": null, "legendX": 7.25, "legendY": 46, "rowPadding": 3.2, "labelFontSize": 13.5, "labelOffset": 14.5, "labelExpr": "datum.value == 'a' ? 'Distribution 1 (weight = 0.2)' : datum.value == 'b' ? 'Distribution 2 (weight = 0.8)' : 'Fitted Distribution'"}},
           "strokeDash": {"field": "s", "type": "nominal", "scale": {"domain": ["a","b","c"], "range": [[2,1.3],[8,3.5],[1,0]]}, "legend": {"title": null, "legendX": 7.25, "legendY": 46, "rowPadding": 3.2, "labelFontSize": 13.5, "labelOffset": 14.5, "labelExpr": "datum.value == 'a' ? 'Distribution 1 (weight = 0.2)' : datum.value == 'b' ? 'Distribution 2 (weight = 0.8)' : 'Fitted Distribution'"}},
           "strokeWidth": {"field": "s", "type": "ordinal", "scale": {"domain": ["a","b","c"], "range": [1,1.2,2.4]}, "legend": {"title": null, "legendX": 7.25, "legendY": 46, "rowPadding": 3.2, "labelFontSize": 13.5, "labelOffset": 14.5, "labelExpr": "datum.value == 'a' ? 'Distribution 1 (weight = 0.2)' : datum.value == 'b' ? 'Distribution 2 (weight = 0.8)' : 'Fitted Distribution'"}}
         }}
      ]
    },
    {
      "width": 575, "height": 310.3,
      "title": {"text": "US Buyout", "offset": -3.3, "dx": -13.5},
      "data": {"name": "buy"},
      "layer": [
        {"transform": [{"filter": "datum.f > 0"}],
         "mark": {"type": "bar", "size": 8.5},
         "encoding": {
           "x": {"field": "i", "type": "quantitative", "scale": {"domain": [-0.5, 26.5], "range": [0.5, 573.5], "nice": false, "zero": false, "padding": 0},
                 "axis": {"title": "Return", "values": [0,5,10,15,20,25], "labelExpr": "['-7,89%','-4,77%','-1,66%','1,46%','4,58%','7,70%'][datum.value/5]", "labelPadding": 20, "titleY": 41, "labelFontSize": 12.8}},
           "y": {"field": "f", "type": "quantitative", "scale": {"domain": [0, 17.14], "nice": false}, "axis": null},
           "fill": {"datum": "Frquency", "type": "nominal", "scale": {"range": ["#0000FF"]}, "legend": {"title": null, "legendX": 14.85, "legendY": 27.5, "labelFontSize": 13.5, "labelOffset": 14.75, "symbolType": "M-3.4,-0.73H3.4V0.73H-3.4Z", "symbolStrokeWidth": 0}}
         }},
        {"transform": [{"fold": ["a","b","c"], "as": ["s","v"]}, {"filter": "isValid(datum.v)"}],
         "mark": {"type": "line"},
         "encoding": {
           "x": {"field": "i", "type": "quantitative"},
           "y": {"field": "v", "type": "quantitative"},
           "stroke": {"field": "s", "type": "nominal", "scale": {"domain": ["a","b","c"], "range": ["#FF6600","#FF6600","#0000FF"]}, "legend": {"title": null, "legendX": 14.85, "legendY": 45.8, "rowPadding": 4.3, "labelFontSize": 13.5, "labelOffset": 14.75, "symbolType": "M-3.4,0H3.4", "labelExpr": "datum.value == 'a' ? 'Distribution 1 (weight = 0.2)' : datum.value == 'b' ? 'Distribution 2 (weight = 0.8)' : 'Fitted Distribution'"}},
           "strokeDash": {"field": "s", "type": "nominal", "scale": {"domain": ["a","b","c"], "range": [[2,1.3],[8,3.5],[1,0]]}, "legend": {"title": null, "legendX": 14.85, "legendY": 45.8, "rowPadding": 4.3, "labelFontSize": 13.5, "labelOffset": 14.75, "symbolType": "M-3.4,0H3.4", "labelExpr": "datum.value == 'a' ? 'Distribution 1 (weight = 0.2)' : datum.value == 'b' ? 'Distribution 2 (weight = 0.8)' : 'Fitted Distribution'"}},
           "strokeWidth": {"field": "s", "type": "ordinal", "scale": {"domain": ["a","b","c"], "range": [1,1.2,2.4]}, "legend": {"title": null, "legendX": 14.85, "legendY": 45.8, "rowPadding": 4.3, "labelFontSize": 13.5, "labelOffset": 14.75, "symbolType": "M-3.4,0H3.4", "labelExpr": "datum.value == 'a' ? 'Distribution 1 (weight = 0.2)' : datum.value == 'b' ? 'Distribution 2 (weight = 0.8)' : 'Fitted Distribution'"}}
         }}
      ]
    },
    {
      "width": 577, "height": 311,
      "title": {"text": "US Venture Capital", "offset": -3.3, "dx": -5},
      "data": {"name": "vc"},
      "layer": [
        {"transform": [{"filter": "datum.f > 0"}],
         "mark": {"type": "bar", "size": 8},
         "encoding": {
           "x": {"field": "i", "type": "quantitative", "scale": {"domain": [-0.5, 26.5], "range": [1, 573], "nice": false, "zero": false, "padding": 0},
                 "axis": {"title": "Return", "values": [0,10,20], "labelExpr": "['-12,42%','1,21%','14,84%'][datum.value/10]", "labelPadding": 18.5, "titleY": 43, "labelFontSize": 11}},
           "y": {"field": "f", "type": "quantitative", "scale": {"domain": [0, 75.25], "nice": false}, "axis": null},
           "fill": {"datum": "Frquency", "type": "nominal", "scale": {"range": ["#0000FF"]}, "legend": {"title": null, "legendX": 292.75, "legendY": 43.1, "labelFontSize": 11, "labelOffset": 14.75, "symbolType": "M-3.4,-0.73H3.4V0.73H-3.4Z", "symbolStrokeWidth": 0}}
         }},
        {"transform": [{"fold": ["a","b","c"], "as": ["s","v"]}, {"filter": "isValid(datum.v)"}],
         "mark": {"type": "line"},
         "encoding": {
           "x": {"field": "i", "type": "quantitative"},
           "y": {"field": "v", "type": "quantitative"},
           "stroke": {"field": "s", "type": "nominal", "scale": {"domain": ["a","b","c"], "range": ["#FF6600","#FF6600","#0000FF"]}, "legend": {"title": null, "legendX": 292.75, "legendY": 63.1, "rowPadding": 8.7, "labelFontSize": 11, "labelOffset": 14.75, "symbolType": "M-3.4,0H3.4", "labelExpr": "datum.value == 'a' ? 'Distribution 1 (weight = 0.2)' : datum.value == 'b' ? 'Distribution 2 (weight = 0.8)' : 'Fitted Distribution'"}},
           "strokeDash": {"field": "s", "type": "nominal", "scale": {"domain": ["a","b","c"], "range": [[2,1.3],[8,3.5],[1,0]]}, "legend": {"title": null, "legendX": 292.75, "legendY": 63.1, "rowPadding": 8.7, "labelFontSize": 11, "labelOffset": 14.75, "symbolType": "M-3.4,0H3.4", "labelExpr": "datum.value == 'a' ? 'Distribution 1 (weight = 0.2)' : datum.value == 'b' ? 'Distribution 2 (weight = 0.8)' : 'Fitted Distribution'"}},
           "strokeWidth": {"field": "s", "type": "ordinal", "scale": {"domain": ["a","b","c"], "range": [1,1.2,2.2]}, "legend": {"title": null, "legendX": 292.75, "legendY": 63.1, "rowPadding": 8.7, "labelFontSize": 11, "labelOffset": 14.75, "symbolType": "M-3.4,0H3.4", "labelExpr": "datum.value == 'a' ? 'Distribution 1 (weight = 0.2)' : datum.value == 'b' ? 'Distribution 2 (weight = 0.8)' : 'Fitted Distribution'"}}
         }}
      ]
    }
  ],
  "config": {
    "view": {"stroke": null},
    "font": "Liberation Serif",
    "scale": {"continuousPadding": 0},
    "title": {"font": "Liberation Serif", "fontSize": 15.5, "fontWeight": "bold", "color": "#000000", "baseline": "middle", "anchor": "middle", "frame": "group"},
    "axis": {"domainColor": "#000000", "domainWidth": 1.5, "ticks": false, "grid": false, "labelFont": "Liberation Serif", "labelColor": "#000000", "labelBaseline": "middle", "labelOverlap": false, "labelFlush": false, "labelBound": false, "titleFont": "Liberation Serif", "titleFontSize": 12.5, "titleFontWeight": "normal", "titleColor": "#000000", "titleBaseline": "middle"},
    "legend": {"orient": "none", "labelFont": "Liberation Serif", "labelColor": "#000000", "padding": 0, "symbolSize": 100, "labelLimit": 400, "symbolType": "M-3.3,0H3.3"}
  }
}
